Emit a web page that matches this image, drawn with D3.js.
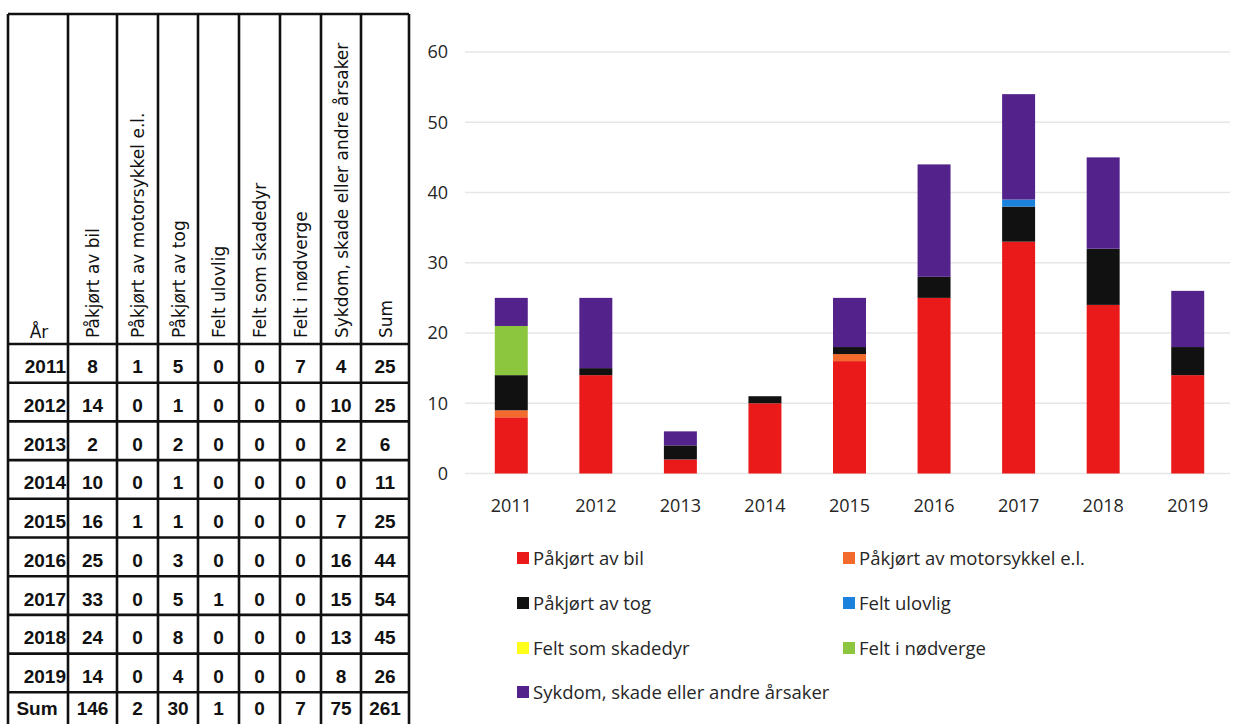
<!DOCTYPE html>
<html><head><meta charset="utf-8">
<script src="https://cdn.jsdelivr.net/npm/d3@7"></script>
<style>html,body{margin:0;padding:0;background:#fff;}svg{display:block;}</style>
</head><body>
<svg id="c" width="1240" height="724"></svg>
<script>
// ---- data ----
const years = ["2011","2012","2013","2014","2015","2016","2017","2018","2019"];
const seriesNames = ["Påkjørt av bil","Påkjørt av motorsykkel e.l.","Påkjørt av tog","Felt ulovlig","Felt som skadedyr","Felt i nødverge","Sykdom, skade eller andre årsaker"];
const bil      = [8,14,2,10,16,25,33,24,14];
const motor    = [1,0,0,0,1,0,0,0,0];
const tog      = [5,1,2,1,1,3,5,8,4];
const ulovlig  = [0,0,0,0,0,0,1,0,0];
const skadedyr = [0,0,0,0,0,0,0,0,0];
const nodverge = [7,0,0,0,0,0,0,0,0];
const sykdom   = [4,10,2,0,7,16,15,13,8];
const sums     = [25,25,6,11,25,44,54,45,26];
const sumRow   = [146,2,30,1,0,7,75,261];
const headerYear = "År";
const headerSum = "Sum";
const sumLabel = "Sum";
const yTicks = [0,10,20,30,40,50,60];

const colors = ["#ea1a1a","#f26a2c","#111111","#1a82dc","#ffff1a","#8cc63f","#53228a"];
const seriesVals = [bil,motor,tog,ulovlig,skadedyr,nodverge,sykdom];

const svg = d3.select("#c");

// ---- table ----
const colX = [8,68,117,158,198,239,280,321,361,409];
const headTop = 14, headBot = 344, rowH = 38.7;
const nRows = years.length + 1;
const tg = svg.append("g");
const rowY = d3.range(nRows+1).map(i => headBot + i*rowH);
const numFont = "'Liberation Sans', sans-serif";

// header text
const headers = [headerYear].concat(seriesNames).concat([headerSum]);
headers.forEach((h,i) => {
  const cx = (colX[i]+colX[i+1])/2;
  if (i===0) {
    tg.append("text").attr("x", cx+1).attr("y", 338).attr("text-anchor","middle")
      .attr("font-family","DejaVu Sans").attr("font-size",17).attr("fill","#111").text(h);
  } else {
    tg.append("text").attr("transform",`translate(${cx+6.5},338) rotate(-90)`)
      .attr("font-family","DejaVu Sans").attr("font-size",17).attr("fill","#111").text(h);
  }
});

// body
const bodyRows = years.map((y,i) => [y].concat(seriesVals.map(s=>s[i])).concat([sums[i]]));
bodyRows.push([sumLabel].concat(sumRow));
bodyRows.forEach((r,ri) => {
  const isSum = ri === years.length;
  const cy = isSum ? 715 : (rowY[ri]+rowY[ri+1])/2 + 10;
  r.forEach((v,ci) => {
    const t = tg.append("text").attr("y", cy)
      .attr("font-family",numFont).attr("font-weight","bold")
      .attr("font-size",19).attr("fill","#111").text(v);
    if (ci===0) {
      if (!isSum) t.attr("x", 66).attr("text-anchor","end");
      else t.attr("x", 37).attr("text-anchor","middle");
    } else {
      t.attr("x",(colX[ci]+colX[ci+1])/2).attr("text-anchor","middle");
    }
  });
});

// grid lines
colX.forEach(x => tg.append("line").attr("x1",x).attr("x2",x).attr("y1",headTop).attr("y2",730)
  .attr("stroke","#111").attr("stroke-width",2.6));
tg.append("line").attr("x1",colX[0]).attr("x2",colX[colX.length-1]).attr("y1",headTop).attr("y2",headTop)
  .attr("stroke","#111").attr("stroke-width",2.6);
rowY.forEach(y => tg.append("line").attr("x1",colX[0]).attr("x2",colX[colX.length-1]).attr("y1",y).attr("y2",y)
  .attr("stroke","#111").attr("stroke-width",2.6));

// ---- chart ----
const x = d3.scaleBand().domain(years).range([469,1230]).paddingInner(0.61).paddingOuter(0.305);
const y = d3.scaleLinear().domain([0,60]).range([473.5,52]);

const cg = svg.append("g");
cg.selectAll("line.grid").data(yTicks).join("line").attr("class","grid")
  .attr("x1",465).attr("x2",1230).attr("y1",d=>y(d)).attr("y2",d=>y(d))
  .attr("stroke","#e6e6e6").attr("stroke-width",1.5);

const yAxis = cg.append("g").attr("transform","translate(451,0)")
  .call(d3.axisLeft(y).tickValues(yTicks).tickSize(0).tickPadding(3));
yAxis.select(".domain").remove();
yAxis.selectAll("text").attr("font-family","Open Sans").attr("font-size",18).attr("fill","#262626");

const xAxis = cg.append("g").attr("transform","translate(0,495)")
  .call(d3.axisBottom(x).tickSize(0).tickPadding(4));
xAxis.select(".domain").remove();
xAxis.selectAll("text").attr("font-family","Open Sans").attr("font-size",18).attr("fill","#262626");

const table = years.map((yr,i) => {
  const o = {year: yr};
  seriesNames.forEach((n,k) => o[n] = seriesVals[k][i]);
  return o;
});
const stacked = d3.stack().keys(seriesNames)(table);
cg.selectAll("g.layer").data(stacked).join("g").attr("class","layer")
  .attr("fill",(d,i)=>colors[i])
  .selectAll("rect").data(d=>d).join("rect")
  .attr("x",d=>x(d.data.year)).attr("width",x.bandwidth())
  .attr("y",d=>y(d[1])).attr("height",d=>y(d[0])-y(d[1]));

// ---- legend ----
const legX = [517, 843], legY = [558, 603, 648, 692];
const lg = svg.append("g");
seriesNames.forEach((n,i) => {
  const lx = legX[i%2], ly = legY[Math.floor(i/2)];
  lg.append("rect").attr("x",lx).attr("y",ly-6).attr("width",12).attr("height",12).attr("fill",colors[i]);
  lg.append("text").attr("x",lx+16).attr("y",ly+6.5).attr("font-family","Open Sans").attr("font-size",18.5)
    .attr("fill","#262626").text(n);
});
</script>
</body></html>
